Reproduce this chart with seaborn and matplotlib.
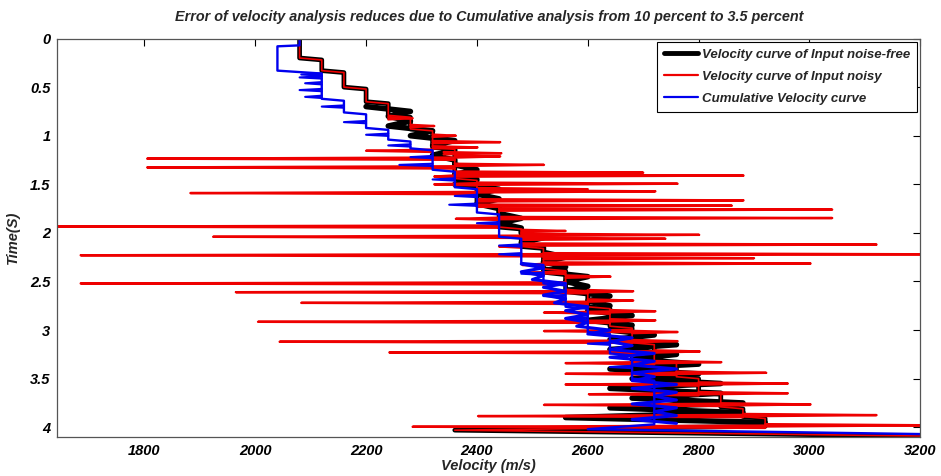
import numpy as np
import pandas as pd
import matplotlib
matplotlib.use("Agg")
import matplotlib.pyplot as plt
from matplotlib.lines import Line2D
import seaborn as sns

# noise-free velocity: staircase levels (m/s) and time span of each level (s)
step_vel   = [2080, 2120, 2160, 2200, 2240, 2280, 2320, 2360, 2400, 2440, 2480,
              2520, 2560, 2600, 2640, 2680, 2720, 2760, 2800, 2840, 2880, 2920]
step_start = [0.00, 0.22, 0.35, 0.52, 0.67, 0.81, 0.95, 1.14, 1.46, 1.73, 1.96,
              2.16, 2.39, 2.60, 2.78, 2.98, 3.15, 3.34, 3.50, 3.66, 3.81, 3.91]
step_end   = [0.20, 0.33, 0.50, 0.65, 0.79, 0.93, 1.12, 1.44, 1.71, 1.94, 2.14,
              2.37, 2.58, 2.76, 2.96, 3.13, 3.32, 3.48, 3.64, 3.79, 3.89, 3.99]
tail_t = [4.03, 4.09]
tail_v = [2360, 3200]

# zigzag between neighbouring levels (the thick black band)
zig_t = [0.70, 0.75, 0.80, 0.85, 0.90, 0.95, 1.00, 1.05, 1.10, 1.15, 1.20, 1.25,
         1.30, 1.35, 1.40, 1.45, 1.50, 1.55, 1.60, 1.65, 1.70, 1.75, 1.80, 1.85,
         1.90, 1.95, 2.00, 2.05, 2.10, 2.15, 2.20, 2.25, 2.30, 2.35, 2.40, 2.45,
         2.50, 2.55, 2.60, 2.65, 2.70, 2.75, 2.80, 2.85, 2.90, 2.95, 3.00, 3.05,
         3.10, 3.15, 3.20, 3.25, 3.30, 3.35, 3.40, 3.45, 3.50, 3.55, 3.60, 3.65,
         3.70, 3.75, 3.80, 3.85, 3.90, 3.95]
zig_v = [2200, 2280, 2240, 2280, 2240, 2320, 2280, 2360, 2320, 2360, 2320, 2360,
         2360, 2400, 2360, 2400, 2360, 2440, 2400, 2440, 2400, 2440, 2440, 2480,
         2440, 2480, 2480, 2520, 2480, 2520, 2520, 2560, 2520, 2560, 2520, 2600,
         2560, 2600, 2560, 2640, 2600, 2640, 2600, 2680, 2600, 2680, 2640, 2720,
         2640, 2760, 2640, 2760, 2680, 2800, 2640, 2800, 2680, 2840, 2640, 2840,
         2680, 2880, 2640, 2880, 2560, 2920]

# noisy curve: outlier samples (time, level they leave from, outlier velocity)
spike_t = [1.155, 1.236, 1.326, 1.42, 1.50, 1.59, 1.855, 1.935, 2.04, 2.14, 2.23,
           2.33, 2.41, 2.52, 2.61, 2.72, 2.82, 2.915, 3.01, 3.12, 3.23, 3.34, 3.45,
           3.56, 3.66, 3.77, 3.885, 3.995,
           0.82, 0.90, 1.00, 1.066, 1.12, 1.18, 1.213, 1.30, 1.38, 1.41, 1.494,
           1.55, 1.572, 1.665, 1.72, 1.76, 1.847, 1.98, 2.02, 2.06, 2.12, 2.22,
           2.26, 2.315, 2.45, 2.60, 2.696, 2.806, 2.90, 3.02, 3.114, 3.22, 3.33,
           3.44, 3.55, 3.65, 3.765, 3.875, 3.98]
spike_base = [2320, 2360, 2360, 2360, 2400, 2400, 2440, 2440, 2480, 2480, 2520,
              2520, 2560, 2560, 2600, 2600, 2640, 2640, 2680, 2680, 2720, 2720, 2760,
              2800, 2800, 2840, 2880, 2920,
              2240, 2280, 2320, 2320, 2320, 2340, 2360, 2360, 2360, 2360, 2400,
              2400, 2400, 2400, 2400, 2440, 2440, 2480, 2480, 2480, 2480, 2520,
              2520, 2520, 2560, 2600, 2600, 2640, 2640, 2680, 2680, 2720, 2720,
              2760, 2800, 2800, 2840, 2880, 2920]
spike_vel = [2200, 1805, 1805, 2323, 2323, 1883, 2362, 1630, 1924, 2440, 1685,
             2482, 2482, 1685, 1965, 2083, 2521, 2005, 2521, 2044, 2242, 2560, 2560,
             2560, 2602, 2521, 2402, 2284,
             2284, 2323, 2362, 2442, 2401, 2444, 2442, 2521, 2700, 2881, 2762,
             2600, 2722, 2881, 2860, 3041, 3041, 2560, 2801, 2740, 3121, 3230,
             2900, 3002, 2641, 2682, 2682, 2722, 2722, 2762, 2762, 2802, 2841,
             2922, 2961, 2961, 3002, 3121, 3230]

# cumulative velocity curve
cum_vel   = [2080, 2040, 2120, 2160, 2200, 2240, 2280, 2320, 2360, 2400, 2440,
             2480, 2520, 2560, 2600, 2640, 2680, 2720]
cum_start = [0.00, 0.08, 0.36, 0.64, 0.78, 0.94, 1.06, 1.15, 1.37, 1.55, 1.81,
             2.06, 2.33, 2.54, 2.78, 3.04, 3.26, 3.52]
cum_end   = [0.07, 0.33, 0.62, 0.76, 0.92, 1.04, 1.13, 1.35, 1.53, 1.79, 2.04,
             2.31, 2.52, 2.76, 3.02, 3.24, 3.50, 3.97]
cum_tail_t = [4.02, 4.07]
cum_tail_v = [2600, 3200]
cum_zig_t = [2.32, 2.36, 2.40, 2.44, 2.48, 2.52, 2.56, 2.60, 2.64, 2.68, 2.72,
             2.76, 2.80, 2.84, 2.88, 2.92, 2.96, 3.00, 3.04, 3.08, 3.12, 3.16,
             3.20, 3.24, 3.28, 3.32, 3.36, 3.40, 3.44, 3.48, 3.52, 3.56, 3.60,
             3.64, 3.68, 3.72, 3.76, 3.80, 3.84, 3.88, 3.92, 3.96]
cum_zig_v = [2480, 2520, 2480, 2520, 2500, 2560, 2520, 2560, 2520, 2560, 2540,
             2600, 2560, 2600, 2560, 2600, 2580, 2640, 2600, 2680, 2640, 2680,
             2640, 2720, 2640, 2720, 2680, 2760, 2680, 2720, 2680, 2760, 2680,
             2760, 2720, 2760, 2680, 2760, 2720, 2760, 2680, 2760]
cum_spike_t = [0.37, 0.40, 0.46, 0.53, 0.60, 0.70, 0.86, 0.99, 1.10, 1.22, 1.30,
               1.45, 1.62, 1.71, 1.90, 2.13, 2.22, 2.42, 2.65, 2.88, 3.14, 3.38]
cum_spike_base = [2120, 2120, 2120, 2120, 2120, 2160, 2200, 2240, 2280, 2320, 2320,
                  2360, 2400, 2400, 2440, 2480, 2480, 2520, 2560, 2600, 2640, 2680]
cum_spike_vel = [2083, 2080, 2090, 2080, 2090, 2120, 2160, 2200, 2240, 2280, 2260,
                 2320, 2360, 2350, 2400, 2440, 2440, 2480, 2520, 2560, 2600, 2640]

x_ticks = [1800, 2000, 2200, 2400, 2600, 2800, 3000, 3200]
y_ticks = [0, 0.5, 1, 1.5, 2, 2.5, 3, 3.5, 4]
y_labels = ["0", "0.5", "1", "1.5", "2", "2.5", "3", "3.5", "4"]


def staircase(vel, start, end, extra_t=(), extra_v=()):
    t, v = [], []
    for lv, s, e in zip(vel, start, end):
        t += [s, e]
        v += [lv, lv]
    t += list(extra_t)
    v += list(extra_v)
    return pd.DataFrame({"time": t, "vel": v})


def wedges(ts, base, out, h=0.012):
    rows = []
    for i, (t, b, o) in enumerate(zip(ts, base, out)):
        rows += [(i, t - h, b), (i, t, o), (i, t + h, b)]
    return pd.DataFrame(rows, columns=["unit", "time", "vel"])


sns.set_theme(style="white")
plt.rcParams["font.family"] = ["Liberation Sans", "DejaVu Sans"]
plt.rcParams["font.weight"] = "bold"
plt.rcParams["font.style"] = "italic"
plt.rcParams["axes.titleweight"] = "bold"
plt.rcParams["axes.labelweight"] = "bold"

fig = plt.figure(figsize=(9.41, 4.76), dpi=100)
ax = fig.add_axes([0.061, 0.082, 0.917, 0.837])

clean = staircase(step_vel, step_start, step_end, tail_t, tail_v)
band = pd.DataFrame({"time": zig_t, "vel": zig_v})
noisy = wedges(spike_t, spike_base, spike_vel)
cum = staircase(cum_vel, cum_start, cum_end, cum_tail_t, cum_tail_v)
cum_band = pd.DataFrame({"time": cum_zig_t, "vel": cum_zig_v})
cum_noise = wedges(cum_spike_t, cum_spike_base, cum_spike_vel)

kw = dict(x="vel", y="time", sort=False, estimator=None, ax=ax, legend=False)
sns.lineplot(data=clean, color="black", lw=3.4, **kw)
sns.lineplot(data=band, color="black", lw=4.0, **kw)
sns.lineplot(data=clean, color="#ee0000", lw=1.2, **kw)
sns.lineplot(data=noisy, units="unit", color="#ee0000", lw=1.7, **kw)
sns.lineplot(data=cum, color="#0000ee", lw=1.7, **kw)
sns.lineplot(data=cum_band, color="#0000ee", lw=2.2, **kw)
sns.lineplot(data=cum_noise, units="unit", color="#0000ee", lw=1.5, **kw)

ax.set_xlim(1643, 3200)
ax.set_ylim(4.1, 0)
ax.set_xticks(x_ticks)
ax.set_yticks(y_ticks)
ax.set_yticklabels(y_labels)
ax.tick_params(direction="in", length=5, width=0.8, top=True, right=True,
               labelsize=10.5, colors="black", pad=5)
for s in ax.spines.values():
    s.set_color("#555555")
    s.set_linewidth(0.9)

ax.set_xlabel("Velocity (m/s)", fontsize=10.5, labelpad=1)
ax.set_ylabel("Time(S)", fontsize=10.5, labelpad=7)
ax.set_title("Error of velocity analysis reduces due to Cumulative analysis "
             "from 10 percent to 3.5 percent", fontsize=10.4, pad=13)

handles = [Line2D([], [], color="black", lw=3.5),
           Line2D([], [], color="#ee0000", lw=1.6),
           Line2D([], [], color="#0000ee", lw=1.6)]
labels = ["Velocity curve of Input noise-free",
          "Velocity curve of Input noisy",
          "Cumulative Velocity curve"]
leg = ax.legend(handles, labels, loc="upper right", fontsize=9.5,
                frameon=True, fancybox=False, framealpha=1, edgecolor="black",
                borderaxespad=0.25, handlelength=2.6, handletextpad=0.3,
                labelspacing=0.75, borderpad=0.5)
leg.get_frame().set_linewidth(0.8)

fig.savefig("out.png", dpi=100)
